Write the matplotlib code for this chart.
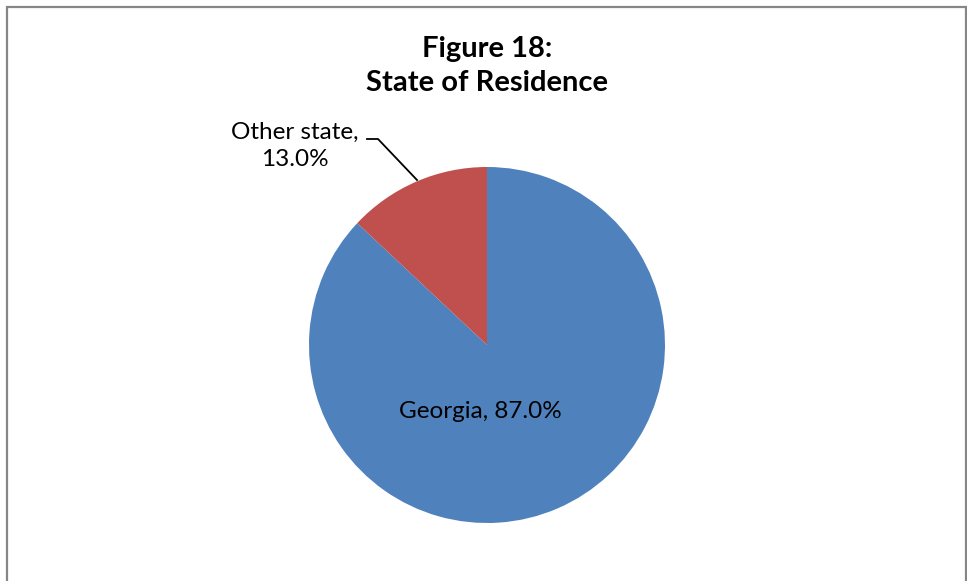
import matplotlib
matplotlib.use("Agg")
import matplotlib.pyplot as plt
from matplotlib.patches import Rectangle

categories = ["Georgia", "Other state"]
values = [87.0, 13.0]
colors = ["#4F81BD", "#C0504D"]
title = "Figure 18:\nState of Residence"

plt.rcParams['font.family'] = ['Lato', 'DejaVu Sans']

W, H = 967, 581
fig = plt.figure(figsize=(W / 100, H / 100), dpi=100)
ax = fig.add_axes([0, 0, 1, 1])

# chart border
fig.patches.append(Rectangle((6.5 / W, -0.1), (966 - 6.5) / W, 1.1 - 6.5 / H,
                             transform=fig.transFigure, fill=False,
                             edgecolor="#868686", linewidth=1.6))

cx, cy, r = 487, H - 345, 178
wedges, _ = ax.pie(values, colors=colors, startangle=90, counterclock=False,
                   center=(cx, cy), radius=r, frame=True)
ax.set_xlim(0, W)
ax.set_ylim(0, H)
ax.set_aspect('equal')
ax.axis('off')

ax.text(487, H - 66, title, ha='center', va='center', fontsize=21,
        fontweight='bold', linespacing=1.42)

ax.text(480, H - 412, f"{categories[0]}, {values[0]:.1f}%", ha='center',
        va='center', fontsize=17.5)

ax.text(295, H - 146, f"{categories[1]},\n{values[1]:.1f}%", ha='center',
        va='center', fontsize=17.5, linespacing=1.35)
ax.plot([417, 378, 367], [H - 180, H - 139, H - 139], color='black', lw=1.3)

fig.savefig("out.png", dpi=100)
